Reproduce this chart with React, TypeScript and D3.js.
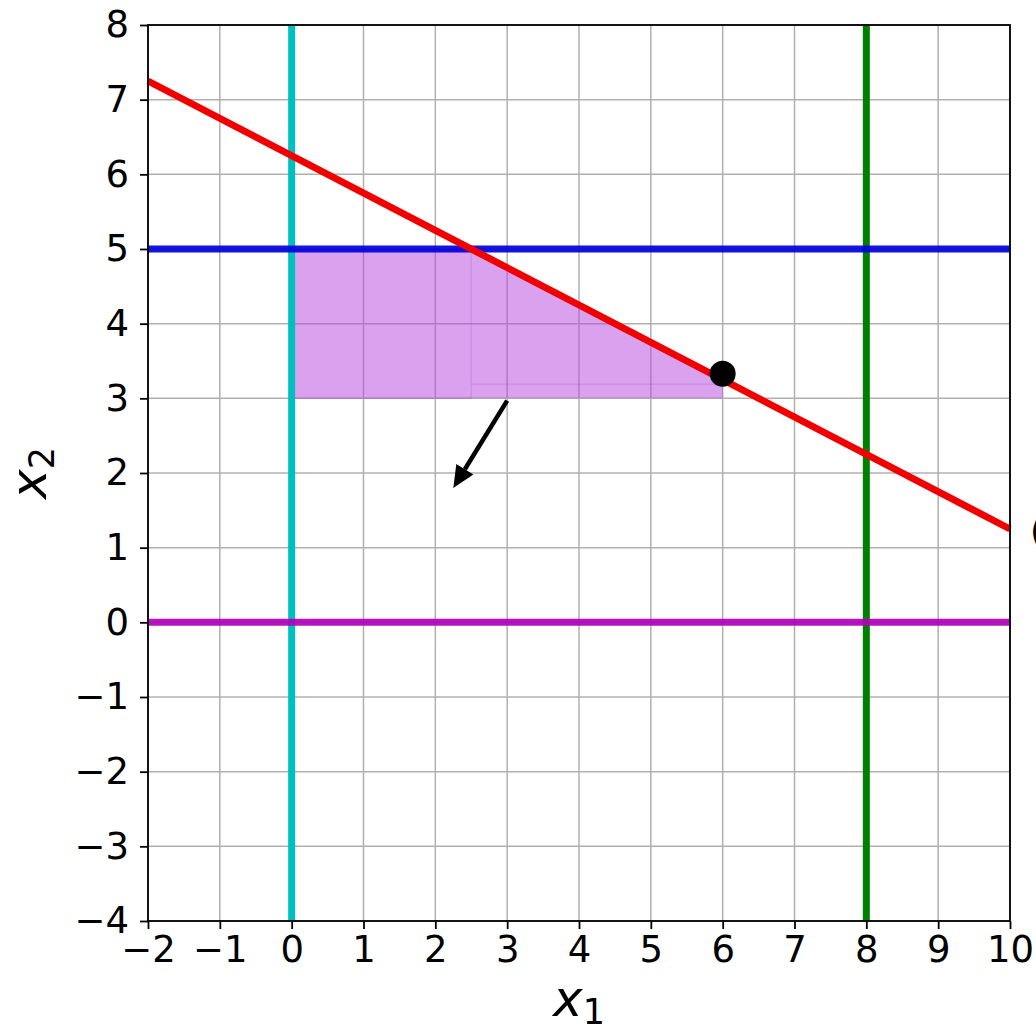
import React, { useEffect, useRef } from 'react';
import * as d3 from 'd3';

// tick values on both axes
const xTicks = [-2, -1, 0, 1, 2, 3, 4, 5, 6, 7, 8, 9, 10];
const yTicks = [-4, -3, -2, -1, 0, 1, 2, 3, 4, 5, 6, 7, 8];

// constraint lines: x1 = c and x2 = c
const verticalBounds = [0, 8];
const horizontalBounds = [5, 0];

// objective / constraint line endpoints
const slantedLine: [number, number][] = [[-2, 7.25], [10, 1.25]];

// shaded feasible region (two pieces)
const regionLeft: [number, number][] = [[0, 3], [0, 5], [2.5, 5], [2.5, 3]];
const regionRight: [number, number][] = [[2.5, 3], [2.5, 5], [6, 3.25], [6, 3]];
const regionSeam: [number, number][] = [[2.5, 3.19], [6, 3.19]];

const optimum: [number, number] = [6, 3.33];
const gradientArrow: [number, number][] = [[3, 2.97], [2.25, 1.8]];

const verticalColors = ['#00bfbf', '#008000'];
const horizontalColors = ['#0000e0', '#b000b8'];

function App() {
  return (
    <div>
      <LPChart />
    </div>
  );
}

function LPChart() {
  const ref = useRef<SVGSVGElement>(null);

  useEffect(() => {
    if (!ref.current) return;
    const svg = d3.select(ref.current);
    svg.selectAll('*').remove();

    const left = 148, right = 1010, top = 25, bottom = 921;
    const x = d3.scaleLinear().domain([-2, 10]).range([left, right]);
    const y = d3.scaleLinear().domain([-4, 8]).range([bottom, top]);
    const font = 'DejaVu Sans, sans-serif';

    // grid
    const grid = svg.append('g');
    xTicks.forEach(t => {
      grid.append('line')
        .attr('x1', x(t)).attr('x2', x(t)).attr('y1', top).attr('y2', bottom)
        .attr('stroke', '#b0b0b0').attr('stroke-width', 1.5);
    });
    yTicks.forEach(t => {
      grid.append('line')
        .attr('x1', left).attr('x2', right).attr('y1', y(t)).attr('y2', y(t))
        .attr('stroke', '#b0b0b0').attr('stroke-width', 1.5);
    });

    // feasible region
    const poly = (pts: [number, number][]) => pts.map(p => `${x(p[0])},${y(p[1])}`).join(' ');
    svg.append('polygon')
      .attr('points', poly(regionLeft))
      .attr('fill', '#b544e0').attr('fill-opacity', 0.5)
      .attr('stroke', '#9a3cc0').attr('stroke-opacity', 0.3).attr('stroke-width', 1);
    svg.append('polygon')
      .attr('points', poly(regionRight))
      .attr('fill', '#b544e0').attr('fill-opacity', 0.5);
    svg.append('line')
      .attr('x1', x(regionSeam[0][0])).attr('y1', y(regionSeam[0][1]))
      .attr('x2', x(regionSeam[1][0])).attr('y2', y(regionSeam[1][1]))
      .attr('stroke', '#9a3cc0').attr('stroke-opacity', 0.3).attr('stroke-width', 1);

    // constraint lines
    verticalBounds.forEach((v, i) => {
      svg.append('line')
        .attr('x1', x(v)).attr('x2', x(v)).attr('y1', top).attr('y2', bottom)
        .attr('stroke', verticalColors[i]).attr('stroke-width', 7);
    });
    horizontalBounds.forEach((v, i) => {
      svg.append('line')
        .attr('x1', left).attr('x2', right).attr('y1', y(v)).attr('y2', y(v))
        .attr('stroke', horizontalColors[i]).attr('stroke-width', 7).attr('stroke-opacity', 0.92);
    });
    svg.append('path')
      .attr('d', d3.line<[number, number]>().x(d => x(d[0])).y(d => y(d[1]))(slantedLine))
      .attr('stroke', '#f00000').attr('stroke-width', 7).attr('fill', 'none');

    // optimum point
    svg.append('circle')
      .attr('cx', x(optimum[0])).attr('cy', y(optimum[1])).attr('r', 13)
      .attr('fill', '#000');

    // gradient arrow
    const [a, b] = gradientArrow;
    const x0 = x(a[0]), y0 = y(a[1]), x1 = x(b[0]), y1 = y(b[1]);
    const ang = Math.atan2(y1 - y0, x1 - x0);
    const headLen = 22, headW = 10;
    const bx = x1 - headLen * Math.cos(ang), by = y1 - headLen * Math.sin(ang);
    svg.append('line')
      .attr('x1', x0).attr('y1', y0).attr('x2', bx).attr('y2', by)
      .attr('stroke', '#000').attr('stroke-width', 4.5);
    svg.append('polygon')
      .attr('points', [
        [x1, y1],
        [bx + headW * Math.sin(ang), by - headW * Math.cos(ang)],
        [bx - headW * Math.sin(ang), by + headW * Math.cos(ang)],
      ].map(p => p.join(',')).join(' '))
      .attr('fill', '#000');

    // frame
    svg.append('rect')
      .attr('x', left).attr('y', top).attr('width', right - left).attr('height', bottom - top)
      .attr('fill', 'none').attr('stroke', '#000').attr('stroke-width', 1.8);

    // axes
    const xAxis = svg.append('g')
      .attr('transform', `translate(0,${bottom})`)
      .call(d3.axisBottom(x).tickValues(xTicks).tickSize(8).tickSizeOuter(0).tickPadding(7));
    const yAxis = svg.append('g')
      .attr('transform', `translate(${left},0)`)
      .call(d3.axisLeft(y).tickValues(yTicks).tickSize(8).tickSizeOuter(0).tickPadding(11));
    [xAxis, yAxis].forEach(ax => {
      ax.select('.domain').remove();
      ax.selectAll('line').attr('stroke', '#000').attr('stroke-width', 1.8);
      ax.selectAll('text').attr('font-size', 37).attr('font-family', font).attr('fill', '#000');
    });

    // axis labels
    const xl = svg.append('text')
      .attr('x', (left + right) / 2).attr('y', 1016)
      .attr('text-anchor', 'middle').attr('font-family', font).attr('font-size', 50);
    xl.append('tspan').attr('font-style', 'italic').text('x');
    xl.append('tspan').attr('font-size', 35).attr('dy', 8).text('1');

    const yl = svg.append('text')
      .attr('transform', `translate(46,${(top + bottom) / 2}) rotate(-90)`)
      .attr('text-anchor', 'middle').attr('font-family', font).attr('font-size', 50);
    yl.append('tspan').attr('font-style', 'italic').text('x');
    yl.append('tspan').attr('font-size', 35).attr('dy', 8).text('2');

    // clipped annotation at the right edge
    svg.append('text')
      .attr('x', 1030).attr('y', 543)
      .attr('font-family', font).attr('font-size', 36).text('(');
  }, []);

  return (
    <svg
      ref={ref}
      width={1036}
      height={1033}
      style={{ position: 'absolute', left: 0, top: 0, background: '#fff' }}
    />
  );
}

export default App;
